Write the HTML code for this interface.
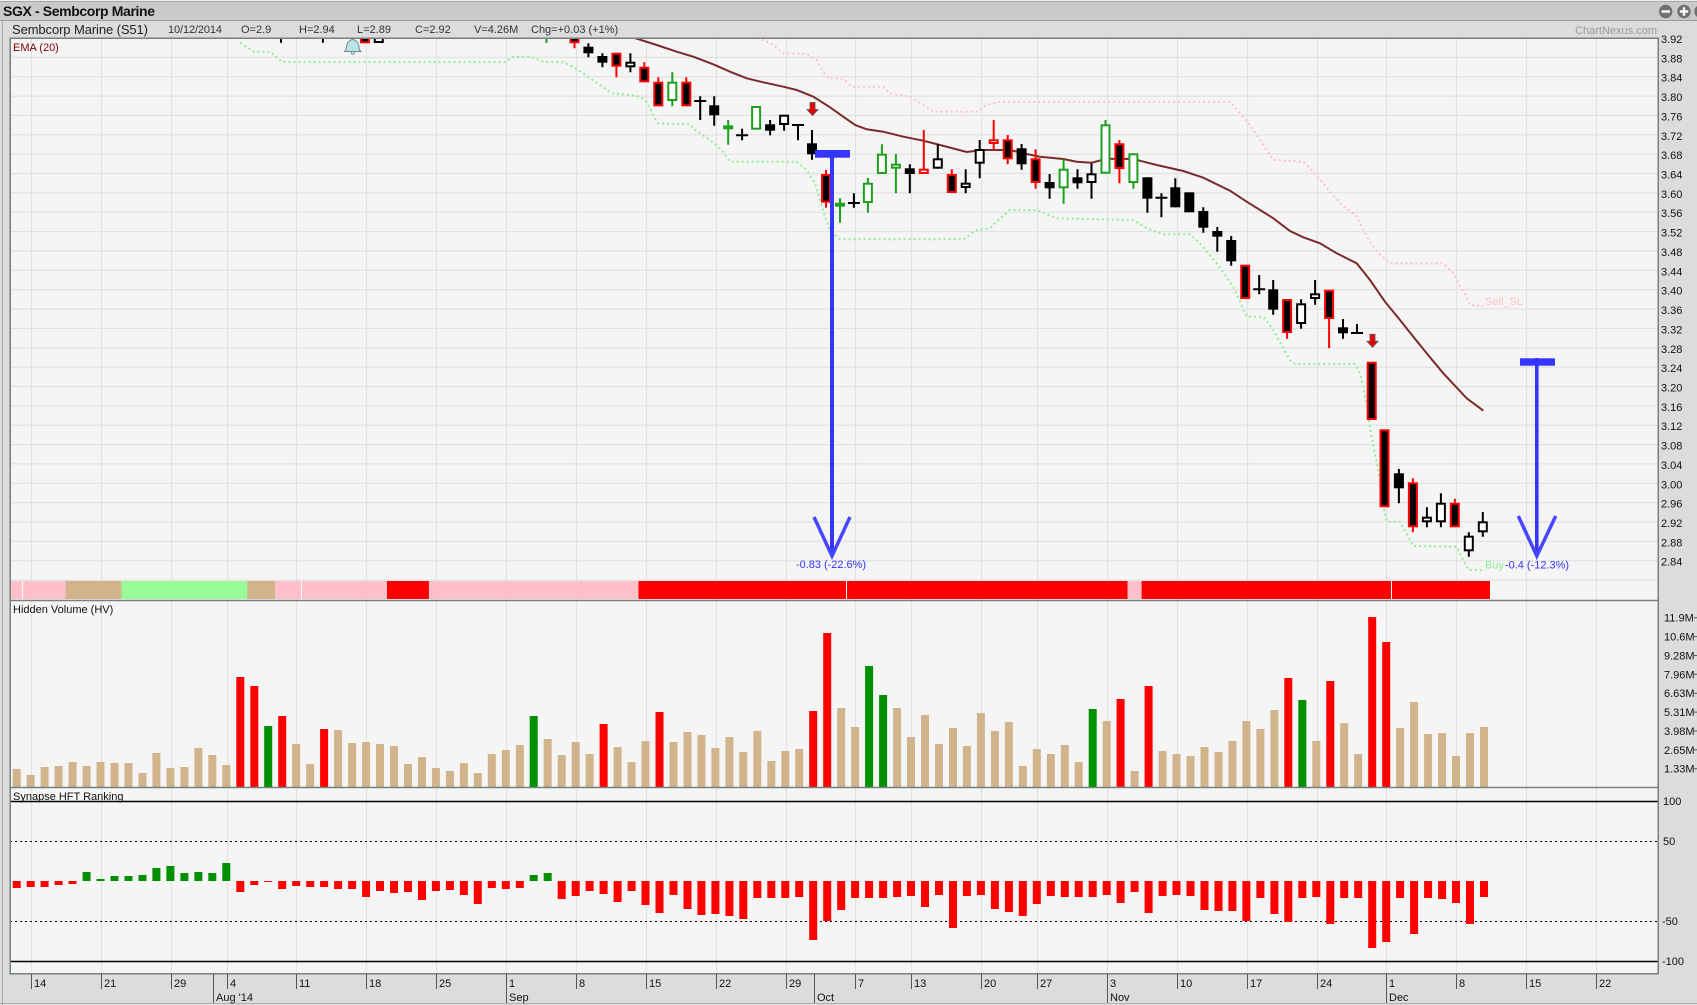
<!DOCTYPE html>
<html><head><meta charset="utf-8"><style>
html,body{margin:0;padding:0;background:#dcdcdc;}
svg{display:block;font-family:"Liberation Sans",Arial,sans-serif;}
</style></head><body>
<svg width="1697" height="1005" viewBox="0 0 1697 1005" xmlns="http://www.w3.org/2000/svg">
<defs><clipPath id="cp"><rect x="11" y="39" width="1647" height="542"/></clipPath></defs>
<!-- backgrounds -->
<rect x="0" y="0" width="1697" height="1005" fill="#dcdcdc"/>
<rect x="0" y="0" width="1697" height="21" fill="#cacaca"/>
<line x1="0" y1="0.5" x2="1697" y2="0.5" stroke="#eeeeee"/>
<line x1="0" y1="1.5" x2="1697" y2="1.5" stroke="#a8a8a8"/>
<line x1="0" y1="20.5" x2="1697" y2="20.5" stroke="#9c9c9c"/>
<line x1="2.5" y1="21" x2="2.5" y2="1005" stroke="#a8a8a8"/>
<line x1="0" y1="1003.5" x2="1697" y2="1003.5" stroke="#b0b0b0"/>
<rect x="10" y="38" width="1648" height="936" fill="#f5f5f5"/>

<!-- header -->
<text x="3" y="16" font-size="14" font-weight="bold" fill="#111" textLength="152">SGX - Sembcorp Marine</text>
<text x="12" y="34" font-size="13" fill="#222" textLength="136">Sembcorp Marine (S51)</text>
<g font-size="11" fill="#333">
<text x="168" y="33" textLength="54">10/12/2014</text>
<text x="241" y="33">O=2.9</text>
<text x="299" y="33">H=2.94</text>
<text x="357" y="33">L=2.89</text>
<text x="415" y="33">C=2.92</text>
<text x="474" y="33">V=4.26M</text>
<text x="531" y="33">Chg=+0.03 (+1%)</text>
</g>
<text x="1657" y="34" font-size="11" fill="#9a9a9a" text-anchor="end">ChartNexus.com</text>
<circle cx="1665.7" cy="11.5" r="6.7" fill="#707070"/><rect x="1661.5" y="10.3" width="8.4" height="2.4" fill="#fff"/>
<circle cx="1684" cy="11.5" r="6.7" fill="#707070"/><rect x="1679.8" y="10.3" width="8.4" height="2.4" fill="#fff"/><rect x="1682.8" y="7.3" width="2.4" height="8.4" fill="#fff"/>
<circle cx="1701" cy="11.5" r="6.7" fill="#707070"/>

<!-- grid -->
<g stroke="#e2e2e2" stroke-width="1.2">
<path d="M31.5 38V974M101.5 38V974M171.5 38V974M227.5 38V974M296.5 38V974M366.5 38V974M436.5 38V974M506.5 38V974M576.5 38V974M646.5 38V974M716.5 38V974M786.5 38V974M855.5 38V974M911.5 38V974M981.5 38V974M1037.5 38V974M1107.5 38V974M1177.5 38V974M1247.5 38V974M1317.5 38V974M1386.5 38V974M1456.5 38V974M1526.5 38V974M1596.5 38V974"/>
<path d="M10 57.4H1658M10 76.7H1658M10 96.1H1658M10 115.4H1658M10 134.8H1658M10 154.2H1658M10 173.5H1658M10 192.9H1658M10 212.2H1658M10 231.6H1658M10 251H1658M10 270.3H1658M10 289.7H1658M10 309H1658M10 328.4H1658M10 347.8H1658M10 367.1H1658M10 386.5H1658M10 405.8H1658M10 425.2H1658M10 444.6H1658M10 463.9H1658M10 483.3H1658M10 502.6H1658M10 522H1658M10 541.4H1658M10 560.7H1658M10 580.1H1658"/>
</g>

<!-- price axis labels -->
<g font-size="11" fill="#111">
<text x="1661" y="43">3.92</text><text x="1661" y="62.4">3.88</text><text x="1661" y="81.7">3.84</text><text x="1661" y="101.1">3.80</text><text x="1661" y="120.4">3.76</text><text x="1661" y="139.8">3.72</text><text x="1661" y="159.2">3.68</text><text x="1661" y="178.5">3.64</text><text x="1661" y="197.9">3.60</text><text x="1661" y="217.2">3.56</text><text x="1661" y="236.6">3.52</text><text x="1661" y="256">3.48</text><text x="1661" y="275.3">3.44</text><text x="1661" y="294.7">3.40</text><text x="1661" y="314">3.36</text><text x="1661" y="333.4">3.32</text><text x="1661" y="352.8">3.28</text><text x="1661" y="372.1">3.24</text><text x="1661" y="391.5">3.20</text><text x="1661" y="410.8">3.16</text><text x="1661" y="430.2">3.12</text><text x="1661" y="449.6">3.08</text><text x="1661" y="468.9">3.04</text><text x="1661" y="488.3">3.00</text><text x="1661" y="507.6">2.96</text><text x="1661" y="527">2.92</text><text x="1661" y="546.4">2.88</text><text x="1661" y="565.7">2.84</text>
</g>
<text x="13" y="51" font-size="11" fill="#800000">EMA (20)</text>

<!-- price panel content -->
<g clip-path="url(#cp)">
<!-- pink dotted sell SL -->
<polyline fill="none" stroke="#ffc0cb" stroke-width="2" stroke-dasharray="2,3" points="757,38 763.3,40 773.3,45 783.3,53.3 806.7,54 816.7,60 823.3,71.7 828.3,78.3 843.3,79 850,85 853.3,86.7 883.3,86.7 890,93.3 910,96.7 923.3,105 933.3,111.7 976.7,111.7 986.7,105 1000,101.7 1230,101.7 1240,113.3 1253.3,130 1266.7,150 1273.3,160 1303.3,161.7 1310,168.3 1323.3,183.3 1340,203.3 1356.7,216.7 1366.7,236.7 1376.7,251.7 1390,263.3 1443,263.3 1455,275 1461.7,290 1466.7,296.7 1470,305 1483.3,306"/>
<!-- green dotted buy -->
<polyline fill="none" stroke="#90ee90" stroke-width="2" stroke-dasharray="2,3" points="240,42.7 254,51.7 270,51.7 282,62 505,62 513,57 531,57 543,61.7 563,62.3 573,66.7 588,76.7 600,85 611.7,93.3 630,95 640,96.7 646.7,101.7 653,115 658,123.3 690,124.3 695,130 710,140 721.7,150 730,161.7 796.7,161.7 806.7,170 815,183.3 820,200 825,216.7 830,230 840,239.3 963.3,239.3 976.7,230 990,228.3 1000,218.3 1010,210 1036.7,210 1056.7,218.3 1133.3,220 1146.7,228.3 1163.3,234.3 1190,234.3 1200,243.3 1216.7,263.3 1233.3,286.7 1246.7,316.7 1263.3,316.7 1273.3,330 1283.3,348.3 1290,360 1295,364 1355,364 1360,373 1363.3,386.7 1366.7,406.7 1370,426.7 1373.3,446.7 1377.7,466.7 1381,490 1384.3,510 1386.7,521.7 1400,521.7 1408.3,536.7 1413.3,546 1456.7,546.7 1463.3,560 1468.3,570 1485,570"/>
<!-- EMA -->
<polyline fill="none" stroke="#6e1414" stroke-width="2" stroke-opacity="0.9" points="620,34 638,39 656.7,45 676.7,51.7 693.3,56.7 713.3,64.3 730,71.7 746.7,78.3 763.3,82.3 783.3,86.7 796.7,90 813.3,96.7 830,107.3 855,125 866.7,129.3 883.3,131.7 903.3,136.7 923.3,140.7 940,145 966.7,152 983.3,150 1010,150 1023.3,153.3 1040,156.7 1063.3,159 1076.7,161.7 1091.7,162.7 1106.7,158.7 1133.3,159 1156.7,165 1183.3,171 1203.3,177.7 1230,190.7 1246.7,201.7 1273.3,218.3 1290,231 1303.3,237.3 1320,243.3 1336.7,253.3 1356.7,263.3 1370,280 1385,301.7 1400,320 1413.3,336.7 1426.7,353.3 1443.3,373.3 1466.7,398.3 1483.3,410.7"/>

<!-- candles: wicks -->
<g stroke-width="2">
<g stroke="#000">
<path d="M281 38V42.7M322.9 38V42.7M588.4 43.3V57.3M602.4 53.3V67.3M630.4 53.3V72.3M700.2 96.3V120M714.2 96.3V125.7M742.1 128.7V140.3M770.1 120V135.3M784.1 114.7V130.7M798 125V140.3M812 130V159.7M853.9 193.3V207.7M909.8 164.3V193.3M937.8 144.3V168.7M965.7 169.3V193.3M979.7 140V178.3M1021.6 144V169.7M1049.6 174V198.7M1077.5 169.3V188.7M1091.5 163.3V198.7M1147.4 177.3V212.7M1161.4 193.3V217.3M1175.3 178.3V207.3M1203.3 207.3V232.7M1217.3 227V251.7M1231.2 236V265.7M1259.2 275V294.3M1273.2 280V314.7M1301.1 299.3V328.7M1315.1 280V304.7M1343 319V338.7M1357 324V333M1398.9 469V503.3M1426.9 507.3V527.3M1440.9 493.3V527.3M1468.8 532.3V556.7M1482.8 512V536.7"/>
<path d="M694.2 101H706.2M736.1 135.3H748.1M792 125H804M847.9 203H859.9M1155.4 197.7H1167.4M1253.2 289.3H1265.2M1351 333H1363"/>
</g>
<g stroke="#f00">
<path d="M574.5 38V48.3M616.4 52.7V77.3M644.3 62.3V82.3M658.3 77.3V106.3M686.3 77.3V106.3M826 170V207.7M923.8 130V174M951.8 169.3V193M993.7 120V150M1007.7 135V164.3M1035.6 149.3V188.7M1119.4 140V183.3M1287.1 299V338.7M1329.1 289.7V348.3M1412.9 478.3V532.3M1454.8 498.7V527.3"/>
</g>
<g stroke="#1ea01e">
<path d="M546.5 38V43M672.3 72.3V106.3M728.2 120V144.7M840 198.3V222.7M867.9 178V212.7M881.9 144.3V174M895.9 154V193.3M1063.6 159.3V203.7M1105.5 120V173.7M1133.4 153.3V188.7"/>
</g>
</g>
<!-- candle bodies: black -->
<g fill="#000">
<rect x="583.4" y="46.7" width="10" height="6.6"/>
<rect x="597.4" y="56" width="10" height="6.7"/>
<rect x="709.2" y="105.3" width="10" height="10"/>
<rect x="765.1" y="124.3" width="10" height="6.4"/>
<rect x="807" y="143.3" width="10" height="11"/>
<rect x="904.8" y="168.3" width="10" height="5.7"/>
<rect x="1016.6" y="148.3" width="10" height="16"/>
<rect x="1044.6" y="182" width="10" height="6.3"/>
<rect x="1072.5" y="177.3" width="10" height="6"/>
<rect x="1142.4" y="177.3" width="10" height="21.4"/>
<rect x="1170.3" y="187.3" width="10" height="20"/>
<rect x="1184.3" y="192.3" width="10" height="20"/>
<rect x="1198.3" y="211" width="10" height="16.7"/>
<rect x="1212.3" y="231" width="10" height="5.7"/>
<rect x="1226.2" y="240" width="10" height="21.3"/>
<rect x="1268.2" y="289.3" width="10" height="20.4"/>
<rect x="1338" y="327.3" width="10" height="6"/>
<rect x="1393.9" y="473.3" width="10" height="15"/>
</g>
<!-- white bodies black border -->
<g fill="#fff" stroke="#000" stroke-width="2">
<rect x="374.8" y="30" width="8" height="12"/>
<rect x="626.4" y="62.7" width="8" height="3.6"/>
<rect x="780.1" y="115.7" width="8" height="8.3"/>
<rect x="933.8" y="159.3" width="8" height="8.4"/>
<rect x="961.7" y="183.7" width="8" height="3.3"/>
<rect x="975.7" y="150" width="8" height="12.7"/>
<rect x="1087.5" y="174.3" width="8" height="7.7"/>
<rect x="1297.1" y="304.3" width="8" height="18.7"/>
<rect x="1311.1" y="294.3" width="8" height="3.7"/>
<rect x="1422.9" y="517.7" width="8" height="3.6"/>
<rect x="1436.9" y="503.7" width="8" height="17.6"/>
<rect x="1464.8" y="536.7" width="8" height="13.6"/>
<rect x="1478.8" y="522.3" width="8" height="9"/>
</g>
<!-- red border black fill -->
<g fill="#000" stroke="#f00" stroke-width="2">
<rect x="360.9" y="30" width="8" height="12.3"/>
<rect x="570.5" y="30" width="8" height="12.3"/>
<rect x="612.4" y="53.7" width="8" height="12"/>
<rect x="640.3" y="67.7" width="8" height="13.6"/>
<rect x="654.3" y="82.7" width="8" height="22.6"/>
<rect x="682.3" y="82.7" width="8" height="22.6"/>
<rect x="822" y="175" width="8" height="26.7"/>
<rect x="947.8" y="175" width="8" height="17"/>
<rect x="1003.7" y="140.3" width="8" height="18"/>
<rect x="1031.6" y="159.3" width="8" height="22.7"/>
<rect x="1115.4" y="144.3" width="8" height="23.7"/>
<rect x="1241.2" y="265.7" width="8" height="32.3"/>
<rect x="1283.1" y="300" width="8" height="32"/>
<rect x="1325.1" y="290.7" width="8" height="27.3"/>
<rect x="1367.7" y="362.7" width="8" height="56.3"/>
<rect x="1380.5" y="430.3" width="8" height="76"/>
<rect x="1408.9" y="483.3" width="8" height="43"/>
<rect x="1450.8" y="503.7" width="8" height="22.6"/>
</g>
<!-- red border white fill -->
<g fill="#fff" stroke="#f00" stroke-width="2">
<rect x="919.8" y="169.7" width="8" height="3.3"/>
<rect x="989.7" y="140.3" width="8" height="2.7"/>
</g>
<!-- green border white fill -->
<g fill="#fff" stroke="#1ea01e" stroke-width="2">
<rect x="668.3" y="82.7" width="8" height="17.3"/>
<rect x="752.1" y="107" width="8" height="21.7"/>
<rect x="836" y="203.7" width="8" height="2"/>
<rect x="863.9" y="183.7" width="8" height="18.3"/>
<rect x="877.9" y="154.7" width="8" height="18.3"/>
<rect x="891.9" y="164.7" width="8" height="3"/>
<rect x="1059.6" y="169.7" width="8" height="17.6"/>
<rect x="1101.5" y="125.3" width="8" height="47.4"/>
<rect x="1129.4" y="154.3" width="8" height="27.7"/>
</g>
<rect x="724.2" y="126.3" width="8" height="2" fill="#000" stroke="#1ea01e" stroke-width="2"/>

<!-- bell -->
<path d="M346.2 49.5 Q346.5 40.5 352.7 39.5 Q358.9 40.5 359.2 49.5 L361 51.5 L344.4 51.5 Z" fill="#b8e4ea" stroke="#7a8a8a" stroke-width="1"/>
<circle cx="352.7" cy="52.8" r="1.6" fill="#b8e4ea" stroke="#7a8a8a" stroke-width="0.8"/>

<!-- red down arrows -->
<path d="M810 102.5h5v7h3l-5.5 6l-5.5-6h3z" fill="#e00" stroke="#555" stroke-width="0.8"/>
<path d="M1370 334.3h5v7h3l-5.5 6l-5.5-6h3z" fill="#e00" stroke="#555" stroke-width="0.8"/>

<!-- blue arrows -->
<rect x="815" y="150" width="35" height="7.7" fill="#3535ff"/>
<rect x="830" y="150" width="4" height="406" fill="#3535ff"/>
<polyline points="814,517 832,556 850,517" fill="none" stroke="#4646ff" stroke-width="3.5"/>
<rect x="1520" y="358.3" width="35" height="7.4" fill="#3535ff"/>
<rect x="1535" y="358" width="3.6" height="198" fill="#3535ff"/>
<polyline points="1518.3,516 1536.8,556 1555.7,516" fill="none" stroke="#4646ff" stroke-width="3.5"/>
<text x="831" y="568" font-size="11" fill="#3535ff" text-anchor="middle" textLength="70">-0.83 (-22.6%)</text>
<text x="1485" y="568.5" font-size="11" fill="#90ee90">Buy</text>
<text x="1505" y="568.5" font-size="11" fill="#3535ff" textLength="64">-0.4 (-12.3%)</text>
<text x="1485" y="305" font-size="11" fill="#ffc0cb">Sell_SL</text>
</g>

<!-- color bar -->
<rect x="11" y="581" width="55" height="18" fill="#ffc0cb"/>
<rect x="65.5" y="581" width="56" height="18" fill="#d2b48c"/>
<rect x="121.5" y="581" width="126" height="18" fill="#98fb98"/>
<rect x="247.3" y="581" width="28" height="18" fill="#d2b48c"/>
<rect x="275.2" y="581" width="112" height="18" fill="#ffc0cb"/>
<rect x="387" y="581" width="42" height="18" fill="#f00"/>
<rect x="428.9" y="581" width="209.6" height="18" fill="#ffc0cb"/>
<rect x="638.5" y="581" width="489.1" height="18" fill="#f00"/>
<rect x="1127.6" y="581" width="14" height="18" fill="#ffc0cb"/>
<rect x="1141.6" y="581" width="348.4" height="18" fill="#f00"/>
<g stroke="#fff" stroke-width="1"><path d="M22.5 581V599M301.5 581V599M846.5 581V599M1391.5 581V599"/></g>

<!-- volume panel -->
<text x="13" y="613" font-size="11" fill="#111">Hidden Volume (HV)</text>
<g fill="#d2b48c">
<rect x="12.7" y="769" width="8" height="18"/><rect x="26.7" y="775" width="8" height="12"/><rect x="40.6" y="767" width="8" height="20"/><rect x="54.6" y="766" width="8" height="21"/><rect x="68.6" y="762" width="8" height="25"/><rect x="82.6" y="766" width="8" height="21"/><rect x="96.5" y="762" width="8" height="25"/><rect x="110.5" y="763" width="8" height="24"/><rect x="124.5" y="763" width="8" height="24"/><rect x="138.5" y="773" width="8" height="14"/><rect x="152.4" y="753" width="8" height="34"/><rect x="166.4" y="768" width="8" height="19"/><rect x="180.4" y="767" width="8" height="20"/><rect x="194.4" y="748" width="8" height="39"/><rect x="208.3" y="755" width="8" height="32"/><rect x="222.3" y="765" width="8" height="22"/>
<rect x="292.2" y="744" width="8" height="43"/><rect x="306.2" y="764" width="8" height="23"/>
<rect x="334.1" y="730" width="8" height="57"/><rect x="348.1" y="743" width="8" height="44"/><rect x="362.1" y="742" width="8" height="45"/><rect x="376" y="744" width="8" height="43"/><rect x="390" y="746" width="8" height="41"/><rect x="404" y="764" width="8" height="23"/><rect x="418" y="757" width="8" height="30"/><rect x="431.9" y="768" width="8" height="19"/><rect x="445.9" y="771" width="8" height="16"/><rect x="459.9" y="763" width="8" height="24"/><rect x="473.8" y="773" width="8" height="14"/><rect x="487.8" y="754" width="8" height="33"/><rect x="501.8" y="750" width="8" height="37"/><rect x="515.8" y="745" width="8" height="42"/>
<rect x="543.7" y="739" width="8" height="48"/><rect x="557.7" y="755" width="8" height="32"/><rect x="571.7" y="742" width="8" height="45"/><rect x="585.6" y="754" width="8" height="33"/>
<rect x="613.6" y="747" width="8" height="40"/><rect x="627.6" y="762" width="8" height="25"/><rect x="641.5" y="741" width="8" height="46"/>
<rect x="669.5" y="742" width="8" height="45"/><rect x="683.5" y="732" width="8" height="55"/><rect x="697.4" y="735" width="8" height="52"/><rect x="711.4" y="748" width="8" height="39"/><rect x="725.4" y="737" width="8" height="50"/><rect x="739.3" y="752" width="8" height="35"/><rect x="753.3" y="731" width="8" height="56"/><rect x="767.3" y="761" width="8" height="26"/><rect x="781.3" y="751" width="8" height="36"/><rect x="795.2" y="749" width="8" height="38"/>
<rect x="837.2" y="708" width="8" height="79"/><rect x="851.1" y="727" width="8" height="60"/>
<rect x="893.1" y="708" width="8" height="79"/><rect x="907" y="737" width="8" height="50"/><rect x="921" y="715" width="8" height="72"/><rect x="935" y="744" width="8" height="43"/><rect x="949" y="728" width="8" height="59"/><rect x="962.9" y="746" width="8" height="41"/><rect x="976.9" y="713" width="8" height="74"/><rect x="990.9" y="731" width="8" height="56"/><rect x="1004.9" y="722" width="8" height="65"/><rect x="1018.8" y="766" width="8" height="21"/><rect x="1032.8" y="749" width="8" height="38"/><rect x="1046.8" y="754" width="8" height="33"/><rect x="1060.8" y="745" width="8" height="42"/><rect x="1074.7" y="762" width="8" height="25"/>
<rect x="1102.7" y="721" width="8" height="66"/><rect x="1130.6" y="771" width="8" height="16"/>
<rect x="1158.6" y="751" width="8" height="36"/><rect x="1172.5" y="754" width="8" height="33"/><rect x="1186.5" y="756" width="8" height="31"/><rect x="1200.5" y="747" width="8" height="40"/><rect x="1214.5" y="752" width="8" height="35"/><rect x="1228.4" y="741" width="8" height="46"/><rect x="1242.4" y="721" width="8" height="66"/><rect x="1256.4" y="729" width="8" height="58"/><rect x="1270.4" y="710" width="8" height="77"/>
<rect x="1312.3" y="741" width="8" height="46"/><rect x="1340.2" y="723" width="8" height="64"/><rect x="1354.2" y="754" width="8" height="33"/>
<rect x="1396.1" y="728" width="8" height="59"/><rect x="1410.1" y="702" width="8" height="85"/><rect x="1424.1" y="734" width="8" height="53"/><rect x="1438.1" y="733" width="8" height="54"/><rect x="1452" y="756" width="8" height="31"/><rect x="1466" y="733" width="8" height="54"/><rect x="1480" y="727" width="8" height="60"/>
</g>
<g fill="#f00">
<rect x="236.3" y="677" width="8" height="110"/><rect x="250.3" y="686" width="8" height="101"/><rect x="278.2" y="716" width="8" height="71"/><rect x="320.1" y="729" width="8" height="58"/><rect x="599.6" y="724" width="8" height="63"/><rect x="655.5" y="712" width="8" height="75"/><rect x="809.2" y="711" width="8" height="76"/><rect x="823.2" y="633" width="8" height="154"/><rect x="1116.6" y="699" width="8" height="88"/><rect x="1144.6" y="686" width="8" height="101"/><rect x="1284.3" y="678" width="8" height="109"/><rect x="1326.3" y="681" width="8" height="106"/><rect x="1368.2" y="617" width="8" height="170"/><rect x="1382.2" y="642" width="8" height="145"/>
</g>
<g fill="#009000">
<rect x="264.2" y="726" width="8" height="61"/><rect x="529.7" y="716" width="8" height="71"/><rect x="865.1" y="666" width="8" height="121"/><rect x="879.1" y="695" width="8" height="92"/><rect x="1088.7" y="709" width="8" height="78"/><rect x="1298.3" y="700" width="8" height="87"/>
</g>
<g font-size="11" fill="#111">
<text x="1664" y="621.7">11.9M</text><text x="1664" y="640.6">10.6M</text><text x="1664" y="659.5">9.28M</text><text x="1664" y="678.3">7.96M</text><text x="1664" y="697.2">6.63M</text><text x="1664" y="716.1">5.31M</text><text x="1664" y="735">3.98M</text><text x="1664" y="753.8">2.65M</text><text x="1664" y="772.7">1.33M</text>
</g>
<g stroke="#555" stroke-width="1"><path d="M1694 617.7h3M1694 636.6h3M1694 655.5h3M1694 674.3h3M1694 693.2h3M1694 712.1h3M1694 731h3M1694 749.8h3M1694 768.7h3"/></g>

<!-- HFT panel -->
<text x="13" y="800" font-size="11" fill="#111">Synapse HFT Ranking</text>
<line x1="10" y1="801.5" x2="1658" y2="801.5" stroke="#000" stroke-width="1.5"/>
<line x1="10" y1="961.5" x2="1658" y2="961.5" stroke="#000" stroke-width="1.5"/>
<line x1="10" y1="841.5" x2="1658" y2="841.5" stroke="#000" stroke-width="1" stroke-dasharray="2,3"/>
<line x1="10" y1="921.5" x2="1658" y2="921.5" stroke="#000" stroke-width="1" stroke-dasharray="2,3"/>
<g font-size="11" fill="#111">
<text x="1663" y="805">100</text><text x="1663" y="845">50</text><text x="1662" y="925">-50</text><text x="1662" y="965">-100</text>
</g>
<g fill="#f00">
<rect x="12.7" y="881" width="8" height="7"/><rect x="26.7" y="881" width="8" height="6"/><rect x="40.6" y="881" width="8" height="6"/><rect x="54.6" y="881" width="8" height="4"/><rect x="68.6" y="881" width="8" height="3"/>
<rect x="236.3" y="881" width="8" height="11"/><rect x="250.3" y="881" width="8" height="4"/><rect x="264.2" y="881" width="8" height="1"/><rect x="278.2" y="881" width="8" height="8"/><rect x="292.2" y="881" width="8" height="5"/><rect x="306.2" y="881" width="8" height="6"/><rect x="320.1" y="881" width="8" height="6"/><rect x="334.1" y="881" width="8" height="8"/><rect x="348.1" y="881" width="8" height="8"/><rect x="362.1" y="881" width="8" height="16"/><rect x="376" y="881" width="8" height="10"/><rect x="390" y="881" width="8" height="12"/><rect x="404" y="881" width="8" height="11"/><rect x="418" y="881" width="8" height="19"/><rect x="431.9" y="881" width="8" height="10"/><rect x="445.9" y="881" width="8" height="9"/><rect x="459.9" y="881" width="8" height="14"/><rect x="473.8" y="881" width="8" height="23"/><rect x="487.8" y="881" width="8" height="7"/><rect x="501.8" y="881" width="8" height="8"/><rect x="515.8" y="881" width="8" height="7"/>
<rect x="557.7" y="881" width="8" height="18"/><rect x="571.7" y="881" width="8" height="15"/><rect x="585.6" y="881" width="8" height="10"/><rect x="599.6" y="881" width="8" height="13"/><rect x="613.6" y="881" width="8" height="21"/><rect x="627.6" y="881" width="8" height="10"/><rect x="641.5" y="881" width="8" height="24"/><rect x="655.5" y="881" width="8" height="32"/><rect x="669.5" y="881" width="8" height="14"/><rect x="683.5" y="881" width="8" height="28"/><rect x="697.4" y="881" width="8" height="34"/><rect x="711.4" y="881" width="8" height="33"/><rect x="725.4" y="881" width="8" height="35"/><rect x="739.3" y="881" width="8" height="38"/><rect x="753.3" y="881" width="8" height="17"/><rect x="767.3" y="881" width="8" height="17"/><rect x="781.3" y="881" width="8" height="17"/><rect x="795.2" y="881" width="8" height="16"/><rect x="809.2" y="881" width="8" height="59"/><rect x="823.2" y="881" width="8" height="40"/><rect x="837.2" y="881" width="8" height="29"/><rect x="851.1" y="881" width="8" height="17"/><rect x="865.1" y="881" width="8" height="17"/><rect x="879.1" y="881" width="8" height="17"/><rect x="893.1" y="881" width="8" height="16"/><rect x="907" y="881" width="8" height="15"/><rect x="921" y="881" width="8" height="26"/><rect x="935" y="881" width="8" height="14"/><rect x="949" y="881" width="8" height="47"/><rect x="962.9" y="881" width="8" height="15"/><rect x="976.9" y="881" width="8" height="14"/><rect x="990.9" y="881" width="8" height="28"/><rect x="1004.9" y="881" width="8" height="31"/><rect x="1018.8" y="881" width="8" height="35"/><rect x="1032.8" y="881" width="8" height="23"/><rect x="1046.8" y="881" width="8" height="15"/><rect x="1060.8" y="881" width="8" height="16"/><rect x="1074.7" y="881" width="8" height="16"/><rect x="1088.7" y="881" width="8" height="16"/><rect x="1102.7" y="881" width="8" height="14"/><rect x="1116.6" y="881" width="8" height="22"/><rect x="1130.6" y="881" width="8" height="11"/><rect x="1144.6" y="881" width="8" height="32"/><rect x="1158.6" y="881" width="8" height="15"/><rect x="1172.5" y="881" width="8" height="14"/><rect x="1186.5" y="881" width="8" height="15"/><rect x="1200.5" y="881" width="8" height="29"/><rect x="1214.5" y="881" width="8" height="30"/><rect x="1228.4" y="881" width="8" height="30"/><rect x="1242.4" y="881" width="8" height="40"/><rect x="1256.4" y="881" width="8" height="17"/><rect x="1270.4" y="881" width="8" height="33"/><rect x="1284.3" y="881" width="8" height="41"/><rect x="1298.3" y="881" width="8" height="17"/><rect x="1312.3" y="881" width="8" height="16"/><rect x="1326.3" y="881" width="8" height="43"/><rect x="1340.2" y="881" width="8" height="17"/><rect x="1354.2" y="881" width="8" height="17"/><rect x="1368.2" y="881" width="8" height="67"/><rect x="1382.2" y="881" width="8" height="61"/><rect x="1396.1" y="881" width="8" height="17"/><rect x="1410.1" y="881" width="8" height="53"/><rect x="1424.1" y="881" width="8" height="17"/><rect x="1438.1" y="881" width="8" height="18"/><rect x="1452" y="881" width="8" height="22"/><rect x="1466" y="881" width="8" height="43"/><rect x="1480" y="881" width="8" height="16"/>
</g>
<g fill="#009000">
<rect x="82.6" y="872" width="8" height="9"/><rect x="96.5" y="879" width="8" height="2"/><rect x="110.5" y="876" width="8" height="5"/><rect x="124.5" y="876" width="8" height="5"/><rect x="138.5" y="875" width="8" height="6"/><rect x="152.4" y="868" width="8" height="13"/><rect x="166.4" y="866" width="8" height="15"/><rect x="180.4" y="873" width="8" height="8"/><rect x="194.4" y="872" width="8" height="9"/><rect x="208.3" y="873" width="8" height="8"/><rect x="222.3" y="863" width="8" height="18"/><rect x="529.7" y="875" width="8" height="6"/><rect x="543.7" y="873" width="8" height="8"/>
</g>

<!-- panel borders -->
<g stroke="#75807f" stroke-width="1.5" fill="none">
<rect x="10.25" y="38.25" width="1648" height="935.5"/>
<line x1="10" y1="600.5" x2="1658" y2="600.5"/>
<line x1="10" y1="787.5" x2="1658" y2="787.5"/>
</g>

<!-- x axis -->
<g stroke="#555" stroke-width="1">
<path d="M31.5 974V989M101.5 974V989M171.5 974V989M227.5 974V989M296.5 974V989M366.5 974V989M436.5 974V989M506.5 974V989M576.5 974V989M646.5 974V989M716.5 974V989M786.5 974V989M855.5 974V989M911.5 974V989M981.5 974V989M1037.5 974V989M1107.5 974V989M1177.5 974V989M1247.5 974V989M1317.5 974V989M1386.5 974V989M1456.5 974V989M1526.5 974V989M1596.5 974V989"/>
<path d="M213.5 974V1003M506.5 974V1003M814.5 974V1003M1107.5 974V1003M1386.5 974V1003"/>
</g>
<g font-size="11" fill="#111">
<text x="34" y="987">14</text><text x="104" y="987">21</text><text x="174" y="987">29</text><text x="230" y="987">4</text><text x="299" y="987">11</text><text x="369" y="987">18</text><text x="439" y="987">25</text><text x="509" y="987">1</text><text x="579" y="987">8</text><text x="649" y="987">15</text><text x="719" y="987">22</text><text x="789" y="987">29</text><text x="858" y="987">7</text><text x="914" y="987">13</text><text x="984" y="987">20</text><text x="1040" y="987">27</text><text x="1110" y="987">3</text><text x="1180" y="987">10</text><text x="1250" y="987">17</text><text x="1320" y="987">24</text><text x="1389" y="987">1</text><text x="1459" y="987">8</text><text x="1529" y="987">15</text><text x="1599" y="987">22</text>
<text x="216" y="1001">Aug '14</text><text x="509" y="1001">Sep</text><text x="817" y="1001">Oct</text><text x="1110" y="1001">Nov</text><text x="1389" y="1001">Dec</text>
</g>
</svg>
</body></html>
